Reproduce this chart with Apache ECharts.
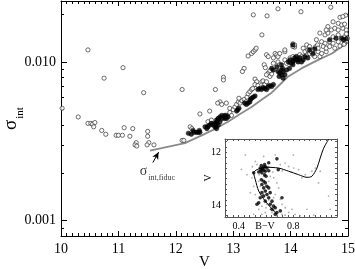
<!DOCTYPE html>
<html><head><meta charset="utf-8">
<script src="https://cdn.jsdelivr.net/npm/echarts@6/dist/echarts.min.js"></script>
<style>html,body{margin:0;padding:0;background:#fff}#c{width:355px;height:269px}</style>
</head><body><div id="c"></div>
<script>
// ---------- main panel data (V, sigma_int) ----------
const openPoints = [
[10.47,0.0119],[11.08,0.0092],[10.75,0.0079],[11.44,0.0064],[10.02,0.0051],[10.30,0.0045],
[10.47,0.0041],[10.52,0.0041],[10.55,0.00405],[10.57,0.0039],[10.59,0.00415],
[10.71,0.0037],[10.78,0.0035],[10.96,0.00345],[11.00,0.00345],[11.07,0.00345],[11.10,0.00385],
[11.20,0.0034],[11.25,0.0038],[11.31,0.0031],[11.29,0.0030],[11.32,0.00295],
[11.51,0.00365],[11.51,0.0034],[11.53,0.0031],[11.50,0.0030],[11.62,0.0030],
[12.11,0.0067],[12.69,0.0067],[12.83,0.0080],[12.83,0.0077],
[13.35,0.0198],[13.59,0.0195],[13.78,0.0216],[14.18,0.0207],[13.50,0.0148],[14.70,0.0221],[14.86,0.0191],[14.96,0.0197],
[13.26,0.0109],[13.32,0.0113],[13.35,0.0116],[13.38,0.0119],[13.40,0.0122],
[13.19,0.0091],[13.16,0.0087],
[12.11,0.0032],[12.14,0.0032],[12.25,0.0039],[12.28,0.0038],[12.42,0.0047],[12.59,0.0049],
[12.77,0.0056],[12.80,0.0054],[12.73,0.0055],[12.88,0.0055],[12.94,0.0051],[12.56,0.0042],[12.62,0.0043],[12.74,0.0044],
[12.94,0.0048],[12.97,0.0046],[13.00,0.0050],
[13.03,0.0052],[13.06,0.0054],[13.09,0.0056],[13.12,0.0055],[13.15,0.0057],[13.19,0.0058],[13.22,0.0056],[13.10,0.0059],[13.24,0.0060],
[13.26,0.0063],[13.29,0.0065],[13.32,0.0067],[13.34,0.0068],
[13.38,0.0078],[13.41,0.0075],[13.38,0.0072],[13.43,0.0071],[13.50,0.0075],[13.52,0.0076],[13.55,0.0072],[13.58,0.0075],[13.61,0.0069],
[13.61,0.0085],[13.58,0.0083],[13.64,0.0081],[13.67,0.0084],[13.64,0.0088],
[13.54,0.0096],[13.56,0.0092],[13.70,0.0098],
[13.58,0.0111],[13.61,0.0108],[13.70,0.0106],[13.73,0.0113],[13.76,0.0111],[13.78,0.0108],[13.81,0.0113],
[13.78,0.0100],[13.81,0.0096],
[13.90,0.0103],[13.93,0.0098],[13.99,0.0106],[14.04,0.0108],[13.90,0.0116],[13.90,0.0119],
[14.04,0.0130],[14.07,0.0124],[14.04,0.0125],[14.07,0.0128],
[14.10,0.0104],[14.16,0.0111],[14.19,0.0108],[14.22,0.0106],[14.28,0.0111],[14.33,0.0113],[14.39,0.0111],[14.42,0.0108],[14.51,0.0108],
[14.22,0.0122],[14.25,0.0116],[14.30,0.0119],[14.36,0.0116],[14.28,0.0128],[14.33,0.0125],
[14.39,0.0119],[14.48,0.0116],[14.54,0.0113],[14.62,0.0116],[14.44,0.0125],[14.47,0.0128],
[14.45,0.0138],[14.54,0.0134],[14.60,0.0131],[14.68,0.0134],[14.74,0.0131],[14.83,0.0134],[14.94,0.0131],
[14.48,0.0122],[14.57,0.0125],[14.62,0.0122],[14.68,0.0125],[14.77,0.0122],
[14.51,0.0152],[14.60,0.0148],[14.65,0.0152],[14.74,0.0144],[14.83,0.0148],[14.94,0.0144],[14.99,0.0141],
[14.65,0.0167],[14.62,0.0159],[14.71,0.0159],[14.77,0.0163],[14.83,0.0159],[14.91,0.0163],[14.97,0.0159],
[14.74,0.0179],[14.83,0.0175],[14.89,0.0171],[14.94,0.0173],[14.91,0.0193],
[14.86,0.0126],[14.93,0.0129],[14.97,0.0150]
];
const filledPoints = [
[12.22,0.00355],[12.27,0.0035],[12.30,0.0037],[12.32,0.0036],[12.36,0.0036],[12.39,0.0036],[12.41,0.0037],[12.42,0.0036],
[12.51,0.0039],[12.54,0.0038],[12.55,0.0039],[12.56,0.0039],[12.59,0.0040],[12.62,0.0041],
[12.65,0.0040],[12.68,0.0041],[12.68,0.0039],[12.71,0.0041],[12.71,0.0038],[12.74,0.0040],[12.70,0.0039],[12.77,0.0042],[12.71,0.0043],[12.72,0.0042],
[12.74,0.0044],[12.77,0.0045],[12.80,0.0044],[12.80,0.0046],[12.85,0.0046],[12.85,0.0044],[12.88,0.0046],[12.88,0.0044],[12.91,0.0045],
[13.06,0.0049],[13.08,0.0050],[13.10,0.0051],
[13.20,0.0055],[13.23,0.0054],[13.26,0.0055],[13.29,0.0056],
[13.30,0.0058],[13.32,0.0059],[13.35,0.0060],[13.38,0.0061],
[13.43,0.0067],[13.46,0.0068],[13.49,0.0067],[13.52,0.0069],[13.55,0.0068],[13.58,0.0067],[13.61,0.0070],[13.64,0.0071],[13.67,0.0070],[13.70,0.0072],
[13.67,0.0091],[13.70,0.0089],[13.76,0.0093],[13.78,0.0087],[13.81,0.0085],[13.84,0.0083],[13.80,0.0081],[13.86,0.0091],[13.84,0.0089],[13.87,0.0087],[13.90,0.0083],[13.87,0.0079],[13.84,0.0096],
[13.93,0.0089],[13.98,0.0091],
[13.96,0.0100],[13.99,0.0103],[14.01,0.0098],[14.04,0.0100],[14.04,0.0096],[14.05,0.0102],[14.07,0.0106],[14.10,0.0103],[14.10,0.0108],[14.13,0.0100],[14.13,0.0103],[14.16,0.0106],[14.19,0.0100],[14.22,0.0103],[14.25,0.0108],[14.30,0.0106],
[14.04,0.0128],
[14.33,0.0119],[14.39,0.0113],[14.42,0.0121],
[14.68,0.0138],[14.79,0.0141],[14.89,0.0141],[14.92,0.0138],[14.97,0.0140]
];
const fiducialV     = [11.55, 12.16, 12.47, 12.65, 12.91, 13.12, 13.32, 13.50, 13.67, 13.78, 13.96, 14.19, 14.48, 14.72, 15.00];
const fiducialSigma = [0.00276,0.00308,0.00347,0.00373,0.0042,0.0047,0.0052,0.0058,0.0064,0.0070,0.0081,0.0091,0.0103,0.0113,0.0133];
const arrowFrom = [11.60, 0.00232];
const arrowTo   = [11.70, 0.00270];
const annotAt   = [11.68, 0.00203];

// axis ticks
const xRange = [10, 15];
const yRange = [0.0008, 0.0242];
const yMajorTicks = [0.001, 0.01];
const yMinorTicks = [0.0009, 0.002, 0.003, 0.004, 0.005, 0.006, 0.007, 0.008, 0.009, 0.02];

// ---------- inset data (B-V, V) ----------
const insetGray = [
[0.449,12.10],[0.461,12.85],[0.522,12.35],[0.534,12.47],[0.497,12.97],[0.510,13.29],[0.485,13.53],[0.522,13.60],
[0.547,14.16],[0.510,14.35],[0.595,14.28],[0.705,13.78],[0.717,13.97],[0.741,14.10],[0.766,14.28],[0.790,14.16],
[0.814,14.35],[0.900,14.16],[1.059,13.66],[0.997,12.72],[0.985,13.16],[0.766,12.54],[0.803,12.60],[0.741,12.41],
[0.705,12.47],[0.668,12.10],[0.583,12.16],[0.656,12.97],[0.680,13.16],[0.693,13.35],[0.668,13.60],[0.656,13.72],
[0.631,14.16],[0.644,14.28],[0.570,14.04],[0.558,13.29],[0.547,13.10],[0.620,13.10],[0.631,12.91],[0.863,12.97],
[0.887,12.85],[0.570,14.35],[0.717,14.35],[0.607,13.97],[0.583,12.91],[0.936,12.72],[0.961,12.60],[0.839,12.66],
[0.60,13.45],[0.62,13.80],[0.64,13.90],[0.58,13.60],[0.66,14.20],[0.60,14.10],[0.55,12.85],[0.72,12.70],[0.79,12.75],
[0.50,12.55],[0.42,12.65],[0.62,12.55],[0.65,12.75],[0.68,14.40],[0.74,14.38],[0.85,14.40],[0.95,14.38],[0.80,12.10],[1.07,14.16]
];
const insetFilled = [
[0.68,12.25],[0.62,12.40],[0.59,12.47],[0.69,12.66],[0.51,12.78],
[0.558,12.60],[0.570,12.66],[0.583,12.57],[0.595,12.72],[0.607,12.60],[0.570,12.78],[0.590,12.85],[0.620,12.70],[0.566,12.50],
[0.600,12.91],[0.547,12.75],[0.583,12.68],[0.575,12.62],[0.595,12.55],[0.56,12.70],
[0.566,13.04],[0.583,13.10],[0.595,13.16],[0.570,13.22],[0.607,13.29],[0.583,13.35],[0.620,13.35],[0.595,13.47],[0.570,13.53],
[0.607,13.60],[0.631,13.53],[0.583,13.66],[0.558,13.72],[0.620,13.72],[0.644,13.85],[0.595,13.85],[0.547,13.91],[0.534,13.97],
[0.631,13.97],[0.656,14.04],[0.668,14.10],[0.644,14.16],[0.680,14.28],[0.668,14.35],[0.705,14.22],[0.717,13.72]
];
const insetCurveBV = [0.680,0.595,0.547,0.522,0.510,0.534,0.595,0.693,0.766,0.839,0.900,0.936,0.973,0.997,1.022,1.059];
const insetCurveV  = [14.35,13.85,13.47,13.04,12.78,12.66,12.57,12.60,12.72,12.85,12.95,12.91,12.60,12.22,11.85,11.51];
const insetXRange = [0.3, 1.12];
const insetYRange = [11.5, 14.45];
const insetXLabels = [0.4, 0.8];
const insetYLabels = [12, 14];
const insetXTicks = [0.32,0.36,0.40,0.44,0.48,0.52,0.56,0.60,0.64,0.68,0.72,0.76,0.80,0.84,0.88,0.92,0.96,1.00,1.04,1.08];
const insetYTicks = [11.6,11.8,12.0,12.2,12.4,12.6,12.8,13.0,13.2,13.4,13.6,13.8,14.0,14.2,14.4];

// ---------- build ----------
const F = 'Liberation Serif';
const L = Math.log10;
const toLog = p => [p[0], L(p[1])];

const mainX = (pos, showLabel) => ({
  gridIndex:0, type:'value', min:xRange[0], max:xRange[1], interval:1, position:pos,
  axisLine:{show:true, lineStyle:{color:'#000', width:1}},
  axisTick:{show:true, inside:true, length:5, lineStyle:{color:'#000', width:1}},
  minorTick:{show:true, splitNumber:10, length:3, lineStyle:{color:'#000', width:1}},
  axisLabel:{show:showLabel, fontFamily:F, fontSize:14, color:'#000', margin:6},
  splitLine:{show:false}, minorSplitLine:{show:false},
  name: showLabel ? 'V' : '', nameLocation:'middle', nameGap:19, nameMoveOverlap:false,
  nameTextStyle:{fontFamily:F, fontSize:15, color:'#000'}
});
const mainY = (pos, ticks, len, major) => ({
  gridIndex:0, type:'value', min:L(yRange[0]), max:L(yRange[1]), position:pos,
  axisLine:{show:major, lineStyle:{color:'#000', width:1}},
  axisTick:{show:true, inside:true, length:len, customValues:ticks.map(L), lineStyle:{color:'#000', width:1}},
  axisLabel:{show:major && pos==='left', customValues:yMajorTicks.map(L), fontFamily:F, fontSize:14, color:'#000', margin:5,
    formatter: v => Math.pow(10, v).toFixed(3)},
  splitLine:{show:false},
  name: (major && pos==='left') ? '{s|σ}{i|int}' : '', nameLocation:'middle', nameRotate:90, nameGap:40, nameMoveOverlap:false,
  nameTextStyle:{fontFamily:F, color:'#000', rich:{
    s:{fontFamily:F, fontSize:19, color:'#000', verticalAlign:'bottom'},
    i:{fontFamily:F, fontSize:11, color:'#000', verticalAlign:'bottom', padding:[0,0,-5,1]}
  }}
});
const insetX = (pos, showLabel) => ({
  gridIndex:1, type:'value', min:insetXRange[0], max:insetXRange[1], position:pos,
  axisLine:{show:true, lineStyle:{color:'#555', width:1}},
  axisTick:{show:true, inside:true, length:2, customValues:insetXTicks, lineStyle:{color:'#555', width:1}},
  axisLabel:{show:showLabel, customValues:insetXLabels, fontFamily:F, fontSize:10, color:'#000', margin:4, formatter:v=>v.toFixed(1)},
  splitLine:{show:false},
  name: showLabel ? 'B\u2212V' : '', nameLocation:'middle', nameGap:4, nameMoveOverlap:false,
  nameTextStyle:{fontFamily:F, fontSize:10, color:'#000', verticalAlign:'top', padding:[0,32,0,0]}
});
const insetY = (pos, showLabel) => ({
  gridIndex:1, type:'value', min:insetYRange[0], max:insetYRange[1], inverse:true, position:pos,
  axisLine:{show:true, lineStyle:{color:'#555', width:1}},
  axisTick:{show:true, inside:true, length:2, customValues:insetYTicks, lineStyle:{color:'#555', width:1}},
  axisLabel:{show:showLabel, customValues:insetYLabels, fontFamily:F, fontSize:10, color:'#000', margin:4},
  splitLine:{show:false},
  name: showLabel ? 'V' : '', nameLocation:'middle', nameRotate:90, nameGap:12, nameMoveOverlap:false,
  nameTextStyle:{fontFamily:F, fontSize:10, color:'#000'}
});

const option = {
  animation:false,
  backgroundColor:'#fff',
  grid:[
    {left:61, top:1, right:7, bottom:33, containLabel:false, outerBoundsMode:'none'},
    {left:225, top:139, width:112, height:78, show:true, backgroundColor:'#fff', borderWidth:0, containLabel:false, outerBoundsMode:'none'}
  ],
  xAxis:[ mainX('bottom', true), mainX('top', false), insetX('bottom', true), insetX('top', false) ],
  yAxis:[
    mainY('left', yMajorTicks, 6, true), mainY('left', yMinorTicks, 3, false),
    mainY('right', yMajorTicks, 6, true), mainY('right', yMinorTicks, 3, false),
    insetY('left', true), insetY('right', false)
  ],
  series:[
    { type:'line', xAxisIndex:0, yAxisIndex:0, data:fiducialV.map((v,i)=>[v, L(fiducialSigma[i])]),
      showSymbol:false, symbol:'none', lineStyle:{color:'#8a8a8a', width:1.8}, z:3,
      markLine:{ silent:true, symbol:['none','arrow'], symbolSize:[5,7], lineStyle:{color:'#000', width:1, type:'solid'},
        label:{show:false}, data:[[{coord:toLog(arrowFrom)},{coord:toLog(arrowTo)}]] } },
    { type:'scatter', xAxisIndex:0, yAxisIndex:0, data:openPoints.map(toLog), symbol:'circle', symbolSize:4.2,
      itemStyle:{color:'#fff', borderColor:'#333', borderWidth:0.9}, z:4 },
    { type:'scatter', xAxisIndex:0, yAxisIndex:0, data:filledPoints.map(toLog), symbol:'circle', symbolSize:4.6,
      itemStyle:{color:'#000', borderColor:'#000', borderWidth:0.5}, z:5 },
    { type:'scatter', xAxisIndex:0, yAxisIndex:0, data:[toLog(annotAt)], symbolSize:0, silent:true, z:6,
      label:{show:true, position:'inside', formatter:'{s|σ}{i|int,fiduc}', rich:{
        s:{fontFamily:F, fontSize:14, color:'#000', verticalAlign:'bottom'},
        i:{fontFamily:F, fontSize:8, color:'#000', verticalAlign:'bottom', padding:[0,0,-3,1]} }} },
    { type:'scatter', xAxisIndex:2, yAxisIndex:4, data:insetGray, symbol:'circle', symbolSize:1.8,
      itemStyle:{color:'#9a9a9a'}, z:6 },
    { type:'line', xAxisIndex:2, yAxisIndex:4, data:insetCurveBV.map((b,i)=>[b, insetCurveV[i]]), smooth:0.3,
      showSymbol:false, symbol:'none', lineStyle:{color:'#000', width:1}, z:7 },
    { type:'scatter', xAxisIndex:2, yAxisIndex:4, data:insetFilled, symbol:'circle', symbolSize:3.6,
      itemStyle:{color:'#000'}, z:8 }
  ]
};
const chart = echarts.init(document.getElementById('c'), null, {renderer:'canvas'});
chart.setOption(option);
</script></body></html>
